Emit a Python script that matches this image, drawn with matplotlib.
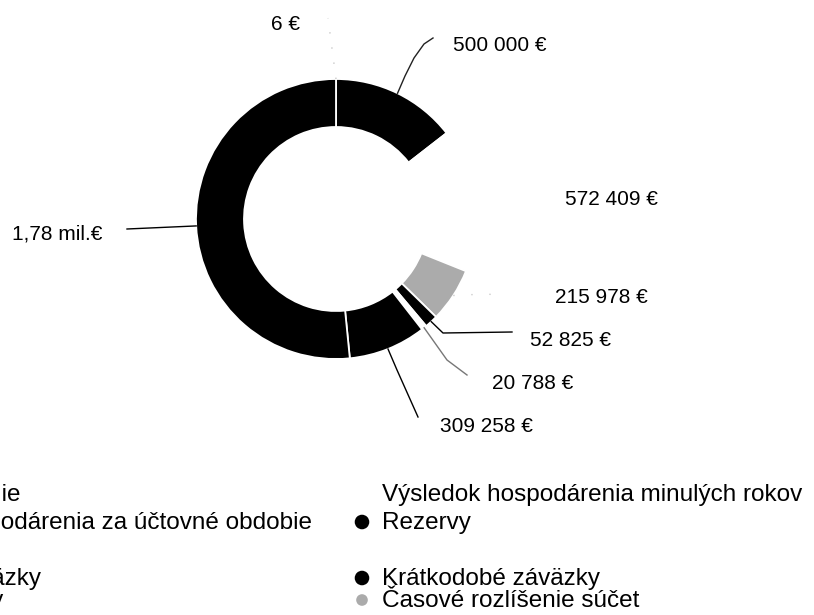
import numpy as np
import matplotlib.pyplot as plt

plt.rcParams['font.family'] = ['Liberation Sans', 'DejaVu Sans']

# segments, clockwise from 12 o'clock
labels = [
    "Výsledok hospodárenia za účtovné obdobie",
    "Základné imanie",
    "Výsledok hospodárenia minulých rokov",
    "Časové rozlíšenie súčet",
    "Rezervy",
    "Bankové úvery",
    "Krátkodobé záväzky",
    "Dlhodobé záväzky",
]
values = [6, 500000, 572409, 215978, 52825, 20788, 309258, 1780000]
value_labels = ["6 €", "500 000 €", "572 409 €", "215 978 €", "52 825 €",
                "20 788 €", "309 258 €", "1,78 mil.€"]

legend_left = ["Základné imanie", "Výsledok hospodárenia za účtovné obdobie",
               "Dlhodobé záväzky", "Bankové úvery"]
legend_right = ["Výsledok hospodárenia minulých rokov", "Rezervy",
                "Krátkodobé záväzky", "Časové rozlíšenie súčet"]

colors = ['white', 'black', 'white', '#ababab', 'black', 'white', 'black', 'black']
color_of = dict(zip(labels, colors))

# layout in pixels (y grows downward)
cx, cy, R, ring = 336, 219, 140, 48
label_pos = [(271, 30), (453, 51), (565, 205), (555, 303), (530, 346),
             (492, 389), (440, 432), (12, 240)]
leader_pts = [[(328, 18)], [(405, 76), (414, 58), (424, 44), (433, 38)], None,
              [(485, 294), (500, 295)],
              [(443, 333), (512, 332)], [(447, 360), (467, 375)],
              [(397, 370), (418, 417)], [(127, 229)]]
leader_col = ['#c8c8c8', '#222222', None, '#cccccc', 'black', '#777777', 'black', 'black']
leader_ls = [(0, (1, 10)), '-', '-', (0, (1, 12)), '-', '-', '-', '-']

fig = plt.figure(figsize=(8.14, 6.15), dpi=100)
ax = fig.add_axes([0, 0, 1, 1])

# y axis is flipped, so counterclock in data = clockwise on screen
wedges, _ = ax.pie(values, colors=colors, startangle=-90, counterclock=True,
                   radius=R, center=(cx, cy),
                   wedgeprops=dict(width=ring, edgecolor='white', linewidth=1.3))
ax.set_xlim(0, 814)
ax.set_ylim(615, 0)
ax.set_aspect('equal')
ax.axis('off')

for i, w in enumerate(wedges):
    if leader_pts[i] is not None:
        th = np.deg2rad((w.theta1 + w.theta2) / 2)
        xs = [cx + R * np.cos(th)] + [p[0] for p in leader_pts[i]]
        ys = [cy + R * np.sin(th)] + [p[1] for p in leader_pts[i]]
        ax.plot(xs, ys, color=leader_col[i], lw=1.0, ls=leader_ls[i])
    ax.text(label_pos[i][0], label_pos[i][1], value_labels[i],
            fontsize=15, ha='left', va='baseline', color='black')

# legend (left column runs off the left edge, as in the scanned original)
row_base = [501, 529, 585, 607]
for col_x, names in [(-157, legend_left), (382, legend_right)]:
    for j, name in enumerate(names):
        c = color_of[name]
        size = 70 if c == '#ababab' else 110
        ax.scatter(col_x - 20, row_base[j] - 7, s=size, color=c, edgecolors='none')
        ax.text(col_x, row_base[j], name, fontsize=17.5, ha='left', va='baseline')

plt.savefig('out.png', dpi=100)
